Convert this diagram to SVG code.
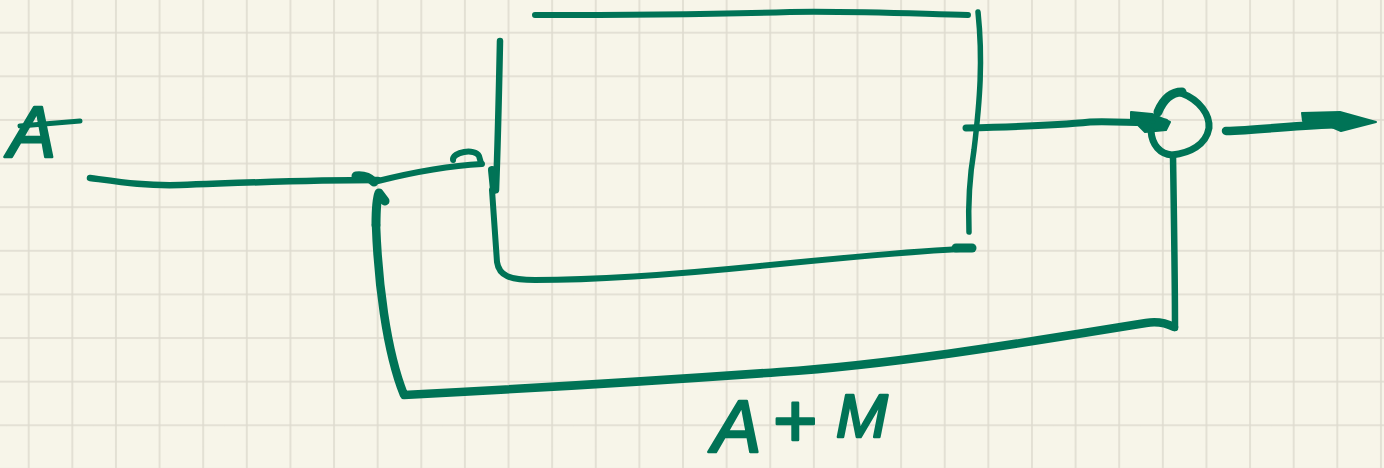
<svg xmlns="http://www.w3.org/2000/svg" width="1384" height="468" viewBox="0 0 1384 468">
<defs>
<pattern id="grid" width="43.62" height="43.62" patternUnits="userSpaceOnUse" x="6.9" y="10.9">
<path d="M21.8 0V43.62M0 21.8H43.62" fill="none" stroke="#e3e0d4" stroke-width="1.6"/>
<path d="M21.8 0V43.62M0 21.8H43.62" fill="none" stroke="#dad8cc" stroke-width="0.7"/>
</pattern>
</defs>
<style>
.s{fill:none;stroke:#007356;stroke-linecap:round;stroke-linejoin:round}
.f{fill:#007356;stroke:#007356;stroke-width:2;stroke-linejoin:round}
.t{fill:#007356;stroke:#007356;stroke-width:2.5;stroke-linejoin:round;font-family:"Liberation Sans",sans-serif;font-style:italic}
</style>
<rect width="1384" height="468" fill="#f7f5e9"/>
<rect width="1384" height="468" fill="url(#grid)"/>
<g id="box">
<path class="s" stroke-width="6" d="M535 15C640 15 720 14 790 12C860 11 920 14 968 15"/>
<path class="s" stroke-width="5.5" d="M978 12C983 60 980 100 974 150C969 180 968 205 969 232"/>
<path class="s" stroke-width="6.5" d="M500 41C499 90 498 140 496 190"/>
<path class="s" stroke-width="8" d="M492 170L494 190"/>
<path class="s" stroke-width="6" d="M492 190C494 220 496 245 497 262C499 276 510 280 535 280C600 280 680 274 760 266C830 259 900 252 960 249"/>
<path class="s" stroke-width="9" d="M956 248L972 248"/>
</g>
<g id="connectors">
<path class="s" stroke-width="6.5" d="M90 178C120 182 145 186 180 185C240 183 300 180 378 180"/>
<path class="s" stroke-width="9" d="M356 176C365 175 370 178 374 182"/>
<path class="s" stroke-width="6" d="M378 181C410 173 445 166 482 164"/>
<path class="s" stroke-width="6" d="M453 160C452 152 475 148 479 156L481 163"/>
<path class="s" stroke-width="9" d="M376 225C376 205 377 198 379 193L385 201"/>
<path class="s" stroke-width="8.5" d="M376 225C378 280 386 350 404 395C500 390 640 382 780 372C900 364 1040 340 1146 323C1158 321 1168 324 1174 327"/>
<path class="s" stroke-width="6.5" d="M1173 155C1174 220 1175 280 1175 328"/>
<path class="s" stroke-width="7" d="M966 128C1010 127 1060 125 1090 122C1120 121 1140 124 1165 122"/>
<path class="f" d="M1131 112L1152 114L1170 122L1166 130L1145 132L1138 125L1155 122L1131 119Z"/>
<path class="s" stroke-width="8.5" d="M1226 131C1260 130 1300 125 1340 124"/>
<path class="f" d="M1302 113L1340 112L1376 122L1341 131L1320 122L1303 121Z"/>
</g>
<g id="sum">
<path class="s" stroke-width="7" d="M1181 93C1200 100 1210 115 1209 128C1206 145 1190 153 1172 155C1160 154 1152 145 1151 131"/>
<path class="s" stroke-width="9" d="M1158 112C1163 100 1170 92 1182 92"/>
</g>
<g id="labels">
<text class="t" x="8" y="157" font-size="72">A</text>
<path class="s" stroke-width="5" d="M20 126L80 121"/>
<text class="t" x="712" y="452" font-size="74">A<tspan x="772" y="447" font-size="76">+</tspan><tspan x="836" y="437" font-size="62">M</tspan></text>
</g>
</svg>
